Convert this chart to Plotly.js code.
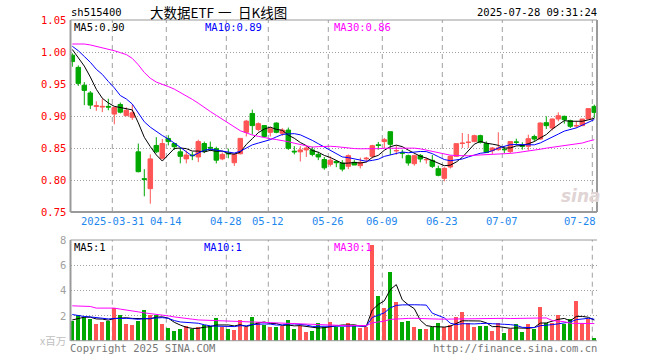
<!DOCTYPE html>
<html><head><meta charset="utf-8">
<script src="https://cdn.plot.ly/plotly-3.0.1.min.js"></script>
<style>html,body{margin:0;padding:0;background:#fff}#chart{width:660px;height:360px}</style>
</head><body><div id="chart"></div>
<script>
// ---------- data ----------
const dates = ['2025-03-20','2025-03-21','2025-03-24','2025-03-25','2025-03-26','2025-03-27','2025-03-28','2025-03-31',
'2025-04-01','2025-04-02','2025-04-03','2025-04-07','2025-04-08','2025-04-09','2025-04-10','2025-04-11','2025-04-14','2025-04-15','2025-04-16','2025-04-17','2025-04-18','2025-04-21','2025-04-22','2025-04-23','2025-04-24','2025-04-25','2025-04-28','2025-04-29','2025-04-30',
'2025-05-06','2025-05-07','2025-05-08','2025-05-09','2025-05-12','2025-05-13','2025-05-14','2025-05-15','2025-05-16','2025-05-19','2025-05-20','2025-05-21','2025-05-22','2025-05-23','2025-05-26','2025-05-27','2025-05-28','2025-05-29','2025-05-30',
'2025-06-03','2025-06-04','2025-06-05','2025-06-06','2025-06-09','2025-06-10','2025-06-11','2025-06-12','2025-06-13','2025-06-16','2025-06-17','2025-06-18','2025-06-19','2025-06-20','2025-06-23','2025-06-24','2025-06-25','2025-06-26','2025-06-27','2025-06-30',
'2025-07-01','2025-07-02','2025-07-03','2025-07-04','2025-07-07','2025-07-08','2025-07-09','2025-07-10','2025-07-11','2025-07-14','2025-07-15','2025-07-16','2025-07-17','2025-07-18','2025-07-21','2025-07-22','2025-07-23','2025-07-24','2025-07-25','2025-07-28'];

const open = [0.995,0.976,0.948,0.936,0.915,0.914,0.915,0.903,0.918,0.9005,
0.898,0.844,0.802,0.7865,0.854,0.834,0.865,0.857,0.844,0.833,
0.839,0.836,0.857,0.851,0.849,0.833,0.842,0.827,0.841,0.8745,
0.904,0.879,0.885,0.8745,0.889,0.873,0.878,0.845,0.844,0.847,
0.847,0.840,0.832,0.8245,0.829,0.8266,0.8214,0.8276,0.8224,0.833,
0.837,0.855,0.860,0.8755,0.8455,0.8425,0.838,0.8255,0.8385,0.8316,
0.8307,0.8177,0.8026,0.8203,0.837,0.857,0.8587,0.860,0.8693,0.857,
0.8458,0.8474,0.8476,0.8443,0.8595,0.8545,0.8526,0.868,0.864,0.8896,
0.8812,0.8953,0.8995,0.8927,0.8845,0.8849,0.8953,0.915];

const high = [0.998,0.979,0.953,0.939,0.923,0.927,0.927,0.914,0.921,0.9135,
0.918,0.857,0.817,0.840,0.867,0.864,0.870,0.858,0.850,0.846,
0.844,0.863,0.860,0.860,0.852,0.843,0.849,0.842,0.865,0.894,
0.910,0.890,0.886,0.883,0.890,0.881,0.882,0.853,0.853,0.853,
0.852,0.844,0.836,0.837,0.831,0.831,0.840,0.831,0.835,0.836,
0.855,0.8594,0.8656,0.8755,0.8537,0.8474,0.8396,0.8396,0.8406,0.8354,
0.839,0.8224,0.820,0.8385,0.8568,0.8734,0.8719,0.8708,0.8708,0.8604,
0.8516,0.8745,0.8526,0.8604,0.8646,0.8589,0.8708,0.8708,0.890,0.8995,
0.896,0.9057,0.9005,0.8943,0.8917,0.8953,0.9125,0.9177];

const low = [0.977,0.947,0.917,0.911,0.908,0.906,0.909,0.887,0.904,0.900,
0.894,0.812,0.7745,0.763,0.842,0.832,0.854,0.847,0.826,0.826,
0.831,0.828,0.842,0.845,0.826,0.831,0.834,0.822,0.840,0.868,
0.871,0.876,0.867,0.868,0.873,0.869,0.847,0.840,0.829,0.836,
0.837,0.831,0.816,0.821,0.820,0.8135,0.817,0.8245,0.818,0.828,
0.834,0.8474,0.850,0.839,0.8396,0.8339,0.8224,0.8224,0.8276,0.8255,
0.8188,0.8057,0.798,0.818,0.836,0.850,0.850,0.859,0.857,0.842,
0.8406,0.8458,0.8422,0.8422,0.8542,0.8474,0.846,0.8604,0.863,0.8797,
0.8776,0.8917,0.888,0.8812,0.8812,0.8849,0.8953,0.8969];

const close = [0.985,0.951,0.940,0.917,0.916,0.915,0.914,0.9135,0.906,0.909,
0.905,0.813,0.801,0.833,0.844,0.857,0.860,0.852,0.837,0.839,
0.838,0.860,0.845,0.850,0.831,0.840,0.841,0.840,0.865,0.892,
0.885,0.888,0.868,0.880,0.8745,0.878,0.8495,0.844,0.847,0.850,
0.840,0.836,0.819,0.831,0.827,0.817,0.838,0.8234,0.8276,0.834,
0.8536,0.854,0.863,0.8557,0.846,0.842,0.8266,0.838,0.8328,0.832,
0.8214,0.8073,0.8182,0.837,0.8568,0.8576,0.859,0.8693,0.8589,0.843,
0.850,0.850,0.8474,0.860,0.8589,0.8526,0.8646,0.864,0.889,0.8849,
0.8953,0.9005,0.8943,0.8839,0.8849,0.8953,0.9115,0.9057];

// volume, millions
const volume = [1.57,2.03,1.92,1.76,1.36,1.52,1.60,2.59,2.05,1.36,
1.25,1.57,2.45,2.05,2.05,1.36,1.04,0.80,0.96,1.17,
0.91,1.07,1.25,1.17,1.84,1.07,0.93,0.85,1.68,1.07,
1.92,1.52,1.25,1.07,1.07,1.17,1.65,0.93,1.17,0.72,
0.80,1.41,1.07,1.52,1.12,1.12,1.39,1.17,1.01,1.07,
7.57,3.57,2.61,5.49,3.04,1.52,1.60,1.07,0.91,0.91,
1.12,1.41,1.07,1.25,1.89,2.29,1.39,1.09,1.17,1.17,
0.77,1.41,0.61,0.96,1.33,0.69,1.33,0.96,2.69,1.39,
1.39,2.05,1.33,1.71,3.17,1.39,1.71,0.21];

// moving-average values before enough history is visible
const ma5Head = [1.004,0.991,0.978,0.961];
const ma10Head = [1.009,1.002,0.993,0.984,0.973,0.965,0.954,0.944,0.932];
const ma30Head = [1.0125,1.0125,1.0125,1.011,1.009,1.007,1.005,1.002,0.999,0.996,0.990,0.980,0.968,0.959,0.953,0.950,0.946,0.942,0.937,0.932,0.926,0.920,0.913,0.907,0.901,0.895,0.889,0.882,0.877];
const vma5Head = [1.65,1.76,1.87,1.87];
const vma10Head = [2.08,1.97,1.92,1.89,1.84,1.79,1.73,1.76,1.79];
const vma30Head = [2.77,2.77,2.77,2.72,2.59,2.59,2.59,2.59,2.51,2.45,2.37,2.29,2.21,2.16,2.11,2.03,1.97,1.89,1.81,1.76,1.71,1.65,1.63,1.60,1.57,1.55,1.52,1.49,1.49];

const tickDates = ['2025-03-31','2025-04-14','2025-04-28','2025-05-12','2025-05-26','2025-06-09','2025-06-23','2025-07-07','2025-07-28'];
const tickLabels = ['2025-03-31','04-14','04-28','05-12','05-26','06-09','06-23','07-07','07-28'];
const priceTicks = [0.75,0.80,0.85,0.90,0.95,1.00,1.05];
const priceTickLabels = ['0.75','0.80','0.85','0.90','0.95','1.00','1.05'];
const volTicks = [2,4,6,8];
const volTickLabels = ['2','4','6','8'];
const titleParts = ['大数据ETF', '一', '日K线图'];
const priceMALabels = ['MA5:0.90','MA10:0.89','MA30:0.86'];
const volMALabels = ['MA5:1','MA10:1','MA30:1'];

// ---------- helpers ----------
function movingAvg(vals, n, head) {
  return vals.map((v, i) => i < n - 1 ? head[i] :
    vals.slice(i - n + 1, i + 1).reduce((a, b) => a + b, 0) / n);
}

const W = 660, H = 360;
const RED = '#ff5555', GREEN = '#00a800';
const MA_COLORS = ['#000000', '#0000ff', '#ff00ff'];
const GRID = '#a0a0a0', BORDER = '#9a9a9a';
const MONO = 'DejaVu Sans Mono, Liberation Mono, monospace';
const CJK = 'Noto Sans CJK SC, sans-serif';

const px = x => x / W;            // pixel -> paper x
const py = y => 1 - y / H;        // pixel -> paper y
const plotL = 70.5, plotR = 597;
const pTop = 20, pBot = 212, vTop = 240, vBot = 340.7;

const idx = dates.map((d, i) => i);
const tickIdx = tickDates.map(d => dates.indexOf(d));

const ma5 = movingAvg(close, 5, ma5Head);
const ma10 = movingAvg(close, 10, ma10Head);
const ma30 = movingAvg(close, 30, ma30Head);
const vma5 = movingAvg(volume, 5, vma5Head);
const vma10 = movingAvg(volume, 10, vma10Head);
const vma30 = movingAvg(volume, 30, vma30Head);
const volColors = close.map((c, i) => c >= open[i] ? RED : GREEN);

const traces = [
  {type: 'candlestick', x: idx, open: open, high: high, low: low, close: close,
   xaxis: 'x', yaxis: 'y', whiskerwidth: 0,
   increasing: {line: {color: RED, width: 1}, fillcolor: RED},
   decreasing: {line: {color: GREEN, width: 1}, fillcolor: GREEN},
   hoverinfo: 'skip'},
  {type: 'scatter', mode: 'lines', x: idx, y: ma5, xaxis: 'x', yaxis: 'y', line: {color: MA_COLORS[0], width: 1}, hoverinfo: 'skip'},
  {type: 'scatter', mode: 'lines', x: idx, y: ma10, xaxis: 'x', yaxis: 'y', line: {color: MA_COLORS[1], width: 1}, hoverinfo: 'skip'},
  {type: 'scatter', mode: 'lines', x: idx, y: ma30, xaxis: 'x', yaxis: 'y', line: {color: MA_COLORS[2], width: 1}, hoverinfo: 'skip'},
  {type: 'bar', x: idx, y: volume, xaxis: 'x2', yaxis: 'y2', width: 0.72,
   marker: {color: volColors, line: {width: 0}}, hoverinfo: 'skip'},
  {type: 'scatter', mode: 'lines', x: idx, y: vma5, xaxis: 'x2', yaxis: 'y2', line: {color: MA_COLORS[0], width: 1}, hoverinfo: 'skip'},
  {type: 'scatter', mode: 'lines', x: idx, y: vma10, xaxis: 'x2', yaxis: 'y2', line: {color: MA_COLORS[1], width: 1}, hoverinfo: 'skip'},
  {type: 'scatter', mode: 'lines', x: idx, y: vma30, xaxis: 'x2', yaxis: 'y2', line: {color: MA_COLORS[2], width: 1}, hoverinfo: 'skip'}
];

const xRange = [-0.3, dates.length - 1 + 0.45];
const axisX = {
  domain: [px(plotL), px(plotR)], range: xRange, type: 'linear',
  showgrid: false, zeroline: false, showticklabels: false, ticks: '',
  showline: false, fixedrange: true, rangeslider: {visible: false}
};

const shapes = [];
// vertical dashed date grid lines (2px left of the candle centre)
tickIdx.forEach(i => {
  ['y domain', 'y2 domain'].forEach((yr, k) => {
    shapes.push({type: 'line', xref: k === 0 ? 'x' : 'x2', yref: yr, x0: i - 1/3, x1: i - 1/3, y0: 0, y1: 1,
      line: {color: GRID, width: 1, dash: '5px,4px'}, layer: 'below'});
  });
});
function seg(x0, y0, x1, y1, w) {
  shapes.push({type: 'line', xref: 'paper', yref: 'paper', x0: px(x0), y0: py(y0), x1: px(x1), y1: py(y1),
    line: {color: BORDER, width: w}, layer: 'above'});
}
// price panel frame
seg(plotL, pTop, plotR, pTop, 1);
seg(plotL, pBot, plotR, pBot, 2);
seg(plotL, pTop, plotL, pBot, 2);
seg(plotR, pTop, plotR, pBot, 2);
// volume panel frame
seg(plotL, vTop, plotR, vTop, 1);
seg(plotL, vBot, plotR, vBot, 1);
seg(plotL, vTop, plotL, vBot, 2);

const ann = [];
function txt(text, x, y, anchor, color, size, family) {
  ann.push({text: text, xref: 'paper', yref: 'paper', x: px(x), y: py(y), xanchor: anchor, yanchor: 'middle',
    showarrow: false, borderpad: 0, font: {color: color, size: size, family: family}});
}
txt('sh515400', 70, 12.5, 'left', '#000', 10.5, MONO);
txt(titleParts[0], 149, 12, 'left', '#000', 13.5, CJK);
txt(titleParts[1], 224.5, 12, 'center', '#000', 13.5, CJK);
txt(titleParts[2], 237, 12, 'left', '#000', 13.5, CJK);
txt('2025-07-28 09:31:24', 598, 12.5, 'right', '#000', 10.5, MONO);
txt(priceMALabels[0], 73, 27.5, 'left', MA_COLORS[0], 10.5, MONO);
txt(priceMALabels[1], 204, 27.5, 'left', MA_COLORS[1], 10.5, MONO);
txt(priceMALabels[2], 333, 27.5, 'left', MA_COLORS[2], 10.5, MONO);
txt(volMALabels[0], 73, 247, 'left', MA_COLORS[0], 10.5, MONO);
txt(volMALabels[1], 203, 247, 'left', MA_COLORS[1], 10.5, MONO);
txt(volMALabels[2], 333, 247, 'left', MA_COLORS[2], 10.5, MONO);
txt('Copyright 2025 SINA.COM', 69, 347.5, 'left', '#777', 10.5, MONO);
txt('http://finance.sina.com.cn', 598, 347.5, 'right', '#777', 10.5, MONO);
txt('x百万', 67, vBot, 'right', '#c0c0c0', 10.5, CJK);
txt('<b><i>sina</i></b>', 581, 196, 'center', '#e0d4d4', 17, 'DejaVu Sans, sans-serif');

// price axis labels
priceTicks.forEach((v, k) => ann.push({text: priceTickLabels[k], xref: 'paper', yref: 'y', x: px(67), y: v,
  xanchor: 'right', yanchor: 'middle', showarrow: false, borderpad: 0, font: {color: '#ff0000', size: 10.5, family: MONO}}));
// volume axis labels
volTicks.forEach((v, k) => ann.push({text: volTickLabels[k], xref: 'paper', yref: 'y2', x: px(67), y: v,
  xanchor: 'right', yanchor: 'middle', showarrow: false, borderpad: 0, font: {color: '#a0a0a0', size: 10.5, family: MONO}}));
// date labels
tickIdx.forEach((i, k) => {
  const last = k === tickIdx.length - 1;
  ann.push({text: tickLabels[k], xref: last ? 'paper' : 'x', yref: 'paper',
    x: last ? px(plotR) : i - 1/3, y: py(221), xanchor: last ? 'right' : 'center', yanchor: 'middle',
    showarrow: false, borderpad: 0, font: {color: '#1e88ee', size: 10.5, family: MONO}});
});

const layout = {
  width: W, height: H, margin: {l: 0, r: 0, t: 0, b: 0, pad: 0},
  paper_bgcolor: '#fff', plot_bgcolor: 'rgba(0,0,0,0)', showlegend: false,
  boxgap: 0.25, boxgroupgap: 0, bargap: 0,
  xaxis: Object.assign({anchor: 'y'}, axisX),
  xaxis2: Object.assign({anchor: 'y2', matches: 'x'}, axisX),
  yaxis: {domain: [py(pBot), py(pTop)], range: [0.75, 1.05], tickvals: [0.80, 0.85, 0.90, 0.95, 1.00],
    showticklabels: false, ticks: '', showgrid: true, gridcolor: GRID, griddash: '1px,2px', gridwidth: 1,
    zeroline: false, showline: false, fixedrange: true, anchor: 'x'},
  yaxis2: {domain: [py(vBot), py(vTop)], range: [0, 8], tickvals: [2, 4, 6],
    showticklabels: false, ticks: '', showgrid: true, gridcolor: GRID, griddash: '1px,2px', gridwidth: 1,
    zeroline: false, showline: false, fixedrange: true, anchor: 'x2'},
  shapes: shapes, annotations: ann
};

Plotly.newPlot('chart', traces, layout, {displayModeBar: false, staticPlot: true});
</script></body></html>
